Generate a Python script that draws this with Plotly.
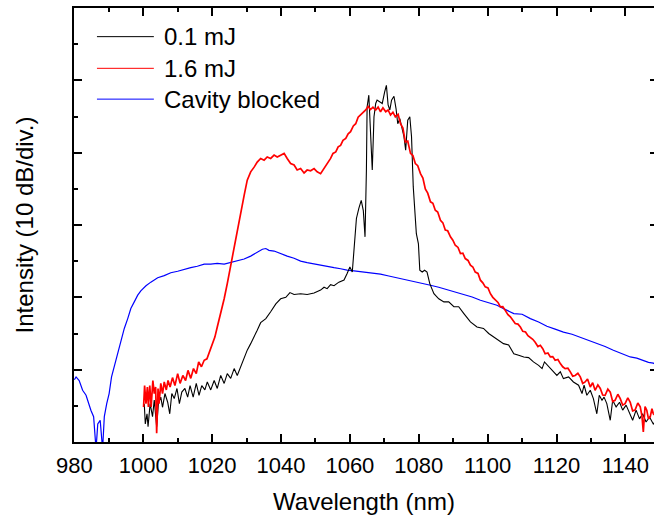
import plotly.graph_objects as go

# ---------------- data (wavelength in nm, intensity in dB) ----------------
blue_wl = [980.0, 980.5, 981.4, 982.4, 983.4, 984.1, 984.8, 985.6, 986.3, 986.8, 987.5, 988.2,
           988.7, 989.4, 990.1, 990.8, 991.6, 992.6, 993.5, 994.5, 995.5, 996.4, 997.4, 998.4,
           999.3, 1000.8, 1002.2, 1004.2, 1006.1, 1008.0, 1010.0, 1011.9, 1013.8, 1015.7,
           1017.7, 1019.6, 1021.5, 1023.5, 1025.4, 1027.3, 1029.3, 1031.2, 1033.1, 1034.6,
           1035.6, 1036.5, 1038.0, 1039.9, 1041.8, 1043.8, 1045.7, 1047.6, 1049.6, 1051.5,
           1053.4, 1055.4, 1057.3, 1059.2, 1061.2, 1064.1, 1066.5, 1068.9, 1071.3, 1073.7,
           1076.2, 1078.6, 1081.0, 1083.4, 1085.8, 1088.2, 1090.7, 1093.1, 1095.5, 1097.9,
           1100.3, 1102.7, 1105.2, 1107.6, 1110.0, 1112.4, 1114.8, 1117.2, 1119.6, 1122.0,
           1124.5, 1126.9, 1129.3, 1131.7, 1134.1, 1136.5, 1139.0, 1141.4, 1143.3, 1145.2,
           1146.7, 1148.1, 1149.0]
blue_db = [8.6, 9.0, 8.5, 7.15, 6.46, 5.3, 4.4, 3.5, -1.0, 2.5, 3.0, -1.0,
           3.5, 5.3, 6.7, 9.0, 10.4, 12.2, 14.1, 15.7, 17.06, 18.45, 19.37, 20.3,
           20.9, 21.6, 22.1, 22.7, 23.0, 23.4, 23.6, 23.9, 24.1, 24.3,
           24.6, 24.6, 24.7, 24.6, 24.8, 25.0, 25.3, 25.7, 26.2, 26.65,
           26.75, 26.5, 26.4, 26.0, 25.7, 25.4, 25.0, 24.8, 24.6, 24.4,
           24.3, 24.1, 23.95, 23.75, 23.65, 23.5, 23.35, 23.2, 22.95, 22.7,
           22.5, 22.27, 22.0, 21.67, 21.4, 21.07, 20.8, 20.43, 20.05, 19.6,
           19.3, 18.9, 18.3, 17.75, 17.66, 17.06, 16.6, 16.0, 15.6, 15.2,
           14.9, 14.5, 14.1, 13.6, 13.2, 12.68, 12.2, 11.76, 11.6, 11.3,
           11.0, 10.9, 10.7]

black_wl = [1000.3, 1000.6, 1001.1, 1001.4, 1002.0, 1002.7, 1003.2, 1003.9, 1004.4, 1005.1,
            1005.6, 1006.3, 1007.1, 1007.7, 1008.3, 1009.0, 1009.8, 1010.5, 1011.2, 1012.1,
            1012.9, 1013.6, 1014.5, 1015.4, 1016.2, 1017.0, 1017.9, 1018.6, 1019.6, 1020.6,
            1021.5, 1022.5, 1023.5, 1024.4, 1025.4, 1026.4, 1027.3, 1028.3, 1029.3, 1030.2,
            1031.2, 1032.2, 1033.1, 1034.1, 1035.6, 1037.0, 1038.5, 1039.9, 1041.4, 1042.6,
            1043.8, 1045.7, 1047.6, 1049.6, 1051.5, 1052.5, 1053.4, 1054.4, 1055.4, 1056.8,
            1058.3, 1059.2, 1060.0, 1060.7, 1061.4, 1061.9, 1062.6, 1063.3, 1063.9, 1064.4,
            1064.8, 1065.0, 1065.5, 1066.0, 1066.5, 1067.0, 1067.5, 1067.9, 1068.7, 1069.4,
            1070.1, 1070.6, 1071.1, 1071.6, 1072.1, 1072.8, 1073.4, 1073.9, 1074.5, 1075.1,
            1075.7, 1076.2, 1076.8, 1077.4, 1077.9, 1078.4, 1078.9, 1079.3, 1079.9, 1080.3,
            1081.0, 1081.7, 1082.4, 1083.2, 1084.4, 1085.8, 1087.3, 1088.7, 1090.2, 1091.6,
            1093.1, 1095.0, 1096.9, 1098.8, 1100.3, 1101.8, 1103.2, 1104.6, 1106.1, 1107.6,
            1109.0, 1110.5, 1111.9, 1113.3, 1114.8, 1115.8, 1116.5, 1117.4, 1118.7, 1120.1,
            1121.1, 1122.0, 1123.5, 1124.9, 1126.4, 1127.4, 1128.0, 1128.8, 1129.8, 1130.7,
            1131.7, 1132.4, 1133.2, 1133.8, 1134.6, 1135.6, 1136.3, 1137.3, 1138.3, 1139.2,
            1140.2, 1141.2, 1142.1, 1143.1, 1144.1, 1145.0, 1146.0, 1147.0, 1148.1, 1149.0]
black_db = [5.3, 2.5, 3.9, 2.1, 5.3, 3.5, 5.8, 2.1, 5.3, 6.2,
            4.8, 6.7, 5.5, 3.9, 6.7, 6.0, 7.4, 5.3, 6.9, 7.4,
            6.2, 7.8, 6.2, 8.1, 6.46, 7.8, 7.2, 8.3, 7.2, 8.5,
            7.4, 9.2, 8.1, 9.45, 8.8, 10.15, 9.2, 10.4, 11.8, 12.7,
            13.6, 14.5, 15.45, 16.5, 17.06, 18.0, 19.1, 19.8, 20.0, 20.66,
            20.4, 20.5, 20.4, 20.6, 21.0, 21.4, 21.2, 21.75, 21.6, 22.1,
            22.4, 23.3, 24.2, 23.5, 27.4, 30.9, 32.3, 33.4, 32.0, 28.36,
            37.6, 46.3, 47.95, 43.1, 37.6, 44.96, 46.8, 47.26, 47.0, 46.8,
            48.4, 49.3, 46.6, 45.9, 47.26, 47.8, 46.1, 44.0, 44.7, 43.3,
            42.2, 40.35, 44.5, 44.96, 42.2, 35.3, 31.6, 28.8, 27.4, 23.75,
            23.5, 23.75, 23.5, 21.9, 20.5, 19.8, 19.37, 19.37, 18.7, 18.7,
            17.75, 16.6, 15.9, 15.7, 15.0, 14.5, 14.15, 13.6, 13.4, 12.2,
            12.0, 11.76, 11.67, 11.07, 10.6, 10.15, 11.07, 10.6, 9.9, 9.2,
            9.7, 8.76, 9.0, 8.3, 7.85, 6.7, 7.85, 6.46, 7.15, 6.0,
            3.9, 6.46, 5.77, 6.2, 5.3, 3.0, 5.77, 4.85, 5.5, 4.4,
            5.1, 3.9, 3.0, 4.4, 3.2, 3.9, 2.77, 3.46, 2.5, 3.0]

red_wl = [1000.1, 1000.4, 1000.8, 1001.2, 1001.5, 1001.9, 1002.3, 1002.8, 1003.2, 1003.6,
          1003.9, 1004.3, 1004.6, 1005.1, 1005.6, 1006.1, 1006.7, 1007.2, 1007.8, 1008.5,
          1009.2, 1010.0, 1010.7, 1011.5, 1012.3, 1013.0, 1013.8, 1014.6, 1015.4, 1016.1,
          1016.9, 1017.7, 1018.5, 1019.2, 1020.0, 1020.8, 1021.5, 1022.5, 1023.5, 1024.4,
          1025.4, 1026.4, 1027.3, 1028.3, 1029.3, 1030.2, 1031.2, 1032.2, 1033.1, 1034.1,
          1035.1, 1036.0, 1037.0, 1038.0, 1038.9, 1039.9, 1040.9, 1041.8, 1042.8, 1043.8,
          1044.7, 1045.7, 1046.7, 1047.6, 1048.6, 1049.6, 1050.5, 1051.5, 1052.5, 1053.4,
          1054.4, 1055.1, 1055.9, 1056.6, 1057.3, 1058.0, 1058.8, 1059.5, 1060.2, 1061.0,
          1061.7, 1062.4, 1063.1, 1063.9, 1064.6, 1065.3, 1066.0, 1066.7, 1067.5, 1068.2,
          1068.9, 1069.6, 1070.4, 1071.1, 1071.8, 1072.5, 1073.2, 1074.0, 1074.7, 1075.4,
          1076.1, 1076.8, 1077.6, 1078.3, 1079.0, 1079.7, 1080.5, 1081.2, 1081.9, 1082.6,
          1083.4, 1084.1, 1084.8, 1085.5, 1086.3, 1087.0, 1087.7, 1088.4, 1089.2, 1089.9,
          1090.6, 1091.4, 1092.1, 1092.8, 1093.5, 1094.3, 1095.0, 1095.7, 1096.4, 1097.2,
          1097.9, 1098.6, 1099.3, 1100.1, 1100.8, 1101.5, 1102.2, 1103.0, 1103.7, 1104.4,
          1105.1, 1105.9, 1106.6, 1107.3, 1108.0, 1108.8, 1109.5, 1110.2, 1111.0, 1111.7,
          1112.4, 1113.1, 1113.8, 1114.6, 1115.3, 1116.0, 1116.7, 1117.5, 1118.2, 1118.9,
          1119.6, 1120.4, 1121.1, 1121.8, 1122.5, 1123.3, 1124.0, 1124.7, 1125.4, 1126.2,
          1126.9, 1127.6, 1128.3, 1129.0, 1129.8, 1130.5, 1131.2, 1132.0, 1132.7, 1133.4,
          1134.1, 1134.9, 1135.6, 1136.3, 1137.0, 1137.8, 1138.5, 1139.2, 1139.9, 1140.7,
          1141.4, 1142.1, 1142.8, 1143.6, 1144.3, 1144.8, 1145.2, 1145.7, 1146.2, 1146.7,
          1147.2, 1147.7, 1148.1, 1149.0]
red_db = [4.85, 7.8, 5.3, 7.6, 4.85, 7.8, 4.85, 8.5, 6.7, 7.6,
          1.2, 7.4, 5.3, 8.1, 6.7, 8.3, 7.2, 8.5, 7.6, 8.9,
          7.8, 9.45, 8.1, 9.2, 8.5, 9.9, 8.8, 10.15, 9.45, 11.07,
          10.4, 11.3, 11.5, 12.45, 13.4, 14.5, 15.9, 17.75, 19.8, 21.9,
          24.4, 26.98, 29.5, 31.8, 34.1, 36.2, 37.35, 38.0, 38.7, 39.2,
          38.96, 39.4, 39.2, 39.66, 39.4, 39.66, 39.9, 39.2, 38.5, 38.3,
          37.6, 37.8, 37.2, 37.6, 37.5, 37.8, 37.35, 37.1, 37.8, 38.5,
          39.2, 39.9, 40.1, 40.8, 41.0, 41.7, 41.96, 42.6, 42.9, 43.7,
          44.0, 44.9, 45.2, 45.5, 45.9, 46.4, 45.97, 46.3, 45.9, 46.3,
          45.65, 46.2, 45.65, 45.9, 45.2, 45.6, 44.96, 45.3, 44.0, 43.4,
          41.5, 41.6, 39.9, 39.6, 38.5, 38.2, 37.1, 36.5, 35.0, 34.4,
          33.2, 33.0, 32.05, 31.8, 30.66, 30.3, 29.3, 29.2, 28.36, 27.9,
          27.2, 26.9, 26.05, 26.1, 25.36, 25.1, 24.44, 24.2, 23.5, 23.3,
          22.37, 22.0, 21.44, 21.3, 20.5, 20.0, 19.6, 19.3, 18.68, 18.7,
          18.2, 17.6, 17.3, 16.9, 16.37, 16.3, 15.9, 15.3, 15.2, 14.7,
          14.5, 14.2, 13.8, 13.2, 13.37, 12.9, 12.2, 12.3, 11.76, 11.8,
          11.3, 11.4, 10.84, 10.4, 10.15, 10.2, 9.7, 9.1, 9.2, 9.5,
          9.0, 8.1, 8.3, 8.7, 7.6, 8.2, 7.15, 7.9, 7.4, 6.5,
          6.46, 7.3, 6.9, 5.6, 5.77, 6.6, 6.0, 5.1, 5.3, 6.1,
          5.5, 4.3, 4.4, 5.4, 4.85, 3.6, 1.4, 4.9, 4.4, 3.2,
          3.46, 4.6, 3.9, 3.5]

series_names = ["0.1 mJ", "1.6 mJ", "Cavity blocked"]
series_colors = ["#000000", "#ff0000", "#0000ff"]
x_ticks = [980, 1000, 1020, 1040, 1060, 1080, 1100, 1120, 1140]
y_ticks = [10, 20, 30, 40, 50]

FONT = "Liberation Sans, Arial, Helvetica, sans-serif"

fig = go.Figure()
fig.add_trace(go.Scatter(x=blue_wl, y=blue_db, mode="lines", name=series_names[2],
                         line=dict(color=series_colors[2], width=1.2), showlegend=False))
fig.add_trace(go.Scatter(x=black_wl, y=black_db, mode="lines", name=series_names[0],
                         line=dict(color=series_colors[0], width=1.1), showlegend=False))
fig.add_trace(go.Scatter(x=red_wl, y=red_db, mode="lines", name=series_names[1],
                         line=dict(color=series_colors[1], width=1.7), showlegend=False))
# right-side tick marks only
fig.add_trace(go.Scatter(x=[None], y=[None], yaxis="y2", showlegend=False, hoverinfo="skip"))

# manual legend (line samples + labels)
leg_y = [0.934, 0.861, 0.790]
for name, col, yy in zip(series_names, series_colors, leg_y):
    fig.add_shape(type="line", xref="paper", yref="paper", x0=0.0396, x1=0.1377, y0=yy, y1=yy,
                  line=dict(color=col, width=1))
    fig.add_annotation(xref="paper", yref="paper", x=0.1515, y=yy, text=name, showarrow=False,
                       xanchor="left", yanchor="middle", font=dict(family=FONT, size=24, color="black"))

fig.update_layout(
    width=654, height=517,
    margin=dict(l=74, r=0, t=8, b=75, autoexpand=False),
    paper_bgcolor="white", plot_bgcolor="white",
    font=dict(family=FONT, size=22, color="black"),
    xaxis=dict(range=[979.9, 1148.3], tickvals=x_ticks, ticks="inside", ticklen=8, tickwidth=1.5,
               tickcolor="black", showline=True, linewidth=2, linecolor="black", mirror="ticks",
               showgrid=False, zeroline=False, tickfont=dict(family=FONT, size=22), automargin=False,
               minor=dict(dtick=10, tick0=980, ticks="inside", ticklen=4, tickwidth=1.5, tickcolor="black"),
               title=dict(text="Wavelength (nm)", font=dict(family=FONT, size=24), standoff=16),
               ticklabelstandoff=3),
    yaxis=dict(range=[0, 60], tickvals=y_ticks, ticks="inside", ticklen=8, tickwidth=1.5,
               tickcolor="black", showline=True, linewidth=2, linecolor="black", mirror=False,
               showgrid=False, zeroline=False, showticklabels=False, automargin=False,
               minor=dict(dtick=5, tick0=0, ticks="inside", ticklen=4, tickwidth=1.5, tickcolor="black"),
               title=dict(text="Intensity (10 dB/div.)", font=dict(family=FONT, size=24), standoff=32)),
    yaxis2=dict(range=[0, 60], overlaying="y", side="right", tickvals=y_ticks, ticks="inside",
                ticklen=4, tickwidth=1.5, tickcolor="black", showline=False, showgrid=False,
                zeroline=False, showticklabels=False, automargin=False),
)

fig.write_html("out.html", config={"displayModeBar": False},
               post_script="document.body.style.margin='0';document.body.style.overflow='hidden';")
